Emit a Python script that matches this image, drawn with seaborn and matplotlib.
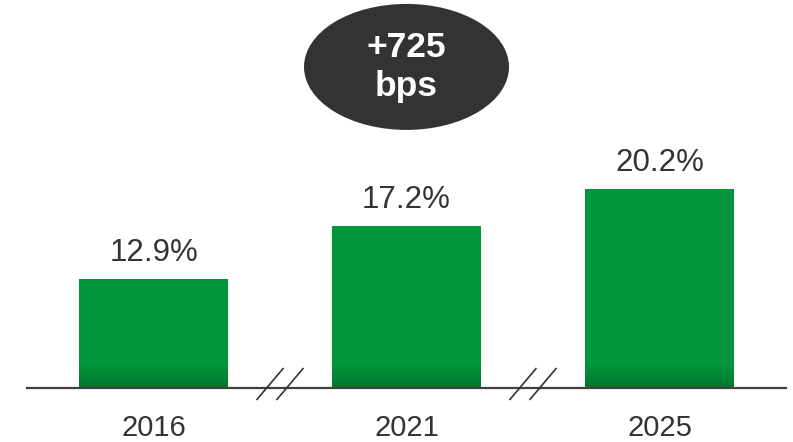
import numpy as np
import pandas as pd
import matplotlib
matplotlib.use("Agg")
import matplotlib.pyplot as plt
from matplotlib.patches import Ellipse
from matplotlib.colors import to_rgb
import seaborn as sns

# Share values by year
years = ["2016", "2021", "2025"]
shares = [12.9, 17.2, 20.2]
value_labels = ["12.9%", "17.2%", "20.2%"]
change_label = ["+725", "bps"]

GREEN = "#009639"
DARK_GREEN = "#00742c"
TEXT = "#333333"
BUBBLE = "#333333"

sns.set_theme(style="white")
plt.rcParams["font.family"] = ["Liberation Sans", "DejaVu Sans"]

W, H = 793, 442
fig = plt.figure(figsize=(W / 100, H / 100), dpi=100)
base_px = 387.5
ax = fig.add_axes([27 / W, (H - base_px) / H, (786 - 27) / W, base_px / H])

df = pd.DataFrame({"year": years, "share": shares})
sns.barplot(data=df, x="year", y="share", color=GREEN, saturation=1,
            width=0.59, linewidth=0, edgecolor="none", ax=ax)

ymin = 4.1
px_per_unit = 12.33
ylim = (ymin, ymin + base_px / px_per_unit)

# Darker shading towards the foot of each bar, as thin overlapping strips
n_strips = 26
strip_h = (26 / px_per_unit) / n_strips
g0 = np.array(to_rgb(GREEN))
g1 = np.array(to_rgb(DARK_GREEN))
for patch in list(ax.patches):
    x0 = patch.get_x()
    w = patch.get_width()
    for k in range(n_strips):
        t = (1 - k / n_strips) ** 1.4
        col = g0 + (g1 - g0) * t
        ax.bar(x0, strip_h * 1.6, bottom=ymin + k * strip_h - strip_h * 0.3,
               width=w, align="edge", color=col, edgecolor="none", linewidth=0,
               zorder=patch.get_zorder() + 0.1 + 0.001 * k)
ax.set_xlim(-0.5, 2.5)
ax.set_ylim(*ylim)

# Value labels above bars
for i, (v, lab) in enumerate(zip(shares, value_labels)):
    ax.annotate(lab, (i, v), xytext=(0, 8), textcoords="offset points",
                ha="center", va="bottom", fontsize=22.5, color=TEXT)

# Axis styling
for side in ["top", "right", "left"]:
    ax.spines[side].set_visible(False)
ax.spines["bottom"].set_color("#404040")
ax.spines["bottom"].set_linewidth(1.6)
ax.spines["bottom"].set_zorder(4)
ax.set_xlabel("")
ax.set_ylabel("")
ax.set_yticks([])
ax.tick_params(axis="x", length=0, pad=19, labelsize=21, labelcolor=TEXT)

# Axis break marks between the years
dx = 13.5 / 253
y_lo = ymin - 12.5 / px_per_unit
y_hi = ymin + 19.5 / px_per_unit
for xb in [0.5, 1.5]:
    for off in [-10 / 253, 10 / 253]:
        xc = xb + off
        ax.plot([xc - dx, xc + dx], [y_lo, y_hi], color="#333333", lw=1.2,
                clip_on=False, zorder=5, solid_capstyle="butt")

# Change bubble
ell = Ellipse((1.0, 30.1), width=205 / 253, height=126 / px_per_unit,
              facecolor=BUBBLE, edgecolor="none", zorder=6)
ax.add_patch(ell)
ax.text(1.0, ymin + (base_px - 57) / px_per_unit, change_label[0], ha="center",
        va="baseline", fontsize=25.5, fontweight="bold", color="white", zorder=7)
ax.text(1.0, ymin + (base_px - 96) / px_per_unit, change_label[1], ha="center",
        va="baseline", fontsize=25.5, fontweight="bold", color="white", zorder=7)

fig.savefig("out.png", dpi=100)
